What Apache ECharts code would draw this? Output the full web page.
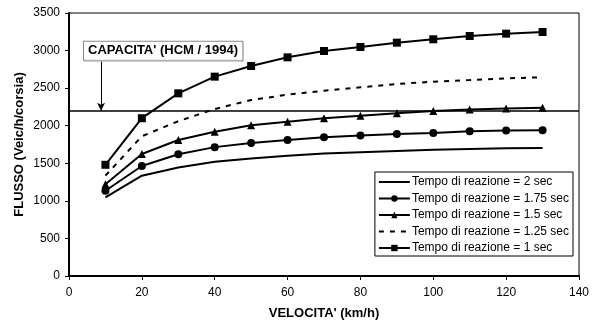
<!DOCTYPE html>
<html><head><meta charset="utf-8">
<script src="https://cdn.jsdelivr.net/npm/echarts@6/dist/echarts.min.js"></script>
<style>html,body{margin:0;padding:0;background:#fff}#c{width:602px;height:327px}</style>
</head><body><div id="c"></div>
<script>
var speeds = [10,20,30,40,50,60,70,80,90,100,110,120,130];
var t2s   = [1045,1335,1445,1520,1565,1600,1630,1648,1665,1680,1690,1700,1705];
var t175s = [1135,1464,1620,1715,1770,1810,1845,1870,1890,1903,1925,1935,1940];
var t15s  = [1222,1624,1810,1921,2005,2054,2100,2134,2165,2196,2215,2228,2238];
var t125s = [1335,1860,2060,2222,2342,2413,2466,2511,2555,2586,2608,2631,2644];
var t1s   = [1480,2100,2431,2653,2795,2910,2994,3048,3105,3150,3194,3225,3247];
var seriesNames = ['Tempo di reazione = 2 sec','Tempo di reazione = 1.75 sec','Tempo di reazione = 1.5 sec','Tempo di reazione = 1.25 sec','Tempo di reazione = 1 sec'];
var capacity = 2200;
var capLabel = "CAPACITA' (HCM / 1994)";
var capLabelPos = [25.8, 2997];
var arrowX = 8.8, arrowTop = 2875;
var xTitle = "VELOCITA' (km/h)";
var yTitle = "FLUSSO (Veic/h/corsia)";

function pairs(v){ return speeds.map(function(s,i){ return [s, v[i]]; }); }
var FONT = 'Liberation Sans, Arial, sans-serif';
var chart = echarts.init(document.getElementById('c'), null, {renderer:'canvas'});
var base = {type:'line', showSymbol:true, symbolSize:8, animation:false, itemStyle:{color:'#000'}, lineStyle:{color:'#000', width:2}};
function mk(name, data, symbol, extra){
  return Object.assign({}, base, {name:name, data:pairs(data), symbol:symbol}, extra||{});
}
var hideSym = {color:'rgba(0,0,0,0)', borderColor:'rgba(0,0,0,0)', borderWidth:0};
chart.setOption({
  backgroundColor:'#fff',
  animation:false,
  textStyle:{fontFamily:FONT},
  grid:{left:69, top:13, width:510, height:263, show:true, borderColor:'#000', borderWidth:1, backgroundColor:'#fff'},
  xAxis:{type:'value', min:0, max:140, interval:20,
    name:xTitle, nameLocation:'middle', nameGap:31, nameMoveOverlap:false,
    nameTextStyle:{fontFamily:FONT, fontWeight:'bold', fontSize:13, color:'#000'},
    axisLine:{lineStyle:{color:'#000', width:2}},
    axisTick:{show:true, inside:false, length:4, lineStyle:{color:'#000', width:1}},
    axisLabel:{fontFamily:FONT, fontSize:12, color:'#000', margin:11},
    splitLine:{show:false}},
  yAxis:{type:'value', min:0, max:3500, interval:500,
    name:yTitle, nameLocation:'middle', nameGap:43, nameMoveOverlap:false,
    nameTextStyle:{fontFamily:FONT, fontWeight:'bold', fontSize:13, color:'#000'},
    axisLine:{show:true, lineStyle:{color:'#000', width:2}},
    axisTick:{show:true, inside:false, length:4, lineStyle:{color:'#000', width:1}},
    axisLabel:{fontFamily:FONT, fontSize:12, color:'#000', margin:9, formatter:function(v){return String(v);}},
    splitLine:{show:false}},
  legend:{orient:'vertical', right:29, top:172, itemWidth:31, itemHeight:8, itemGap:4.5,
    borderColor:'#000', borderWidth:1, padding:[4,4,2,3], backgroundColor:'#fff',
    textStyle:{fontFamily:FONT, fontSize:12, color:'#000', padding:[0,0,0,-3]},
    data:[
      {name:seriesNames[0], itemStyle:hideSym},
      {name:seriesNames[1]},
      {name:seriesNames[2]},
      {name:seriesNames[3], itemStyle:hideSym},
      {name:seriesNames[4]}
    ]},
  series:[
    mk(seriesNames[0], t2s, 'none', {showSymbol:false, z:3}),
    mk(seriesNames[1], t175s, 'circle', {symbolSize:8, z:4}),
    mk(seriesNames[2], t15s, 'triangle', {symbolSize:8, z:5}),
    mk(seriesNames[3], t125s, 'none', {showSymbol:false, lineStyle:{color:'#000', width:2, type:[5,6]}, z:2}),
    mk(seriesNames[4], t1s, 'rect', {symbolSize:8, z:6,
      markLine:{silent:true, symbol:['none','none'], animation:false,
        lineStyle:{color:'#000', width:1.5, type:'solid'}, label:{show:false},
        data:[{yAxis:capacity},
          [{coord:[arrowX, arrowTop], symbol:'none'},{coord:[arrowX, capacity], symbol:'arrow', symbolSize:[6,8], lineStyle:{width:1, color:'#000'}}]]},
      markPoint:{silent:true, symbol:'rect', symbolSize:0, animation:false,
        label:{show:true, position:'inside', formatter:capLabel, fontFamily:FONT, fontWeight:'bold', fontSize:13, color:'#000',
          backgroundColor:'#fff', borderColor:'#888', borderWidth:1, padding:[3,4,2,4],
          shadowColor:'#bbb', shadowOffsetX:1, shadowOffsetY:1, shadowBlur:0},
        data:[{coord:capLabelPos}]}})
  ]
});
</script></body></html>
